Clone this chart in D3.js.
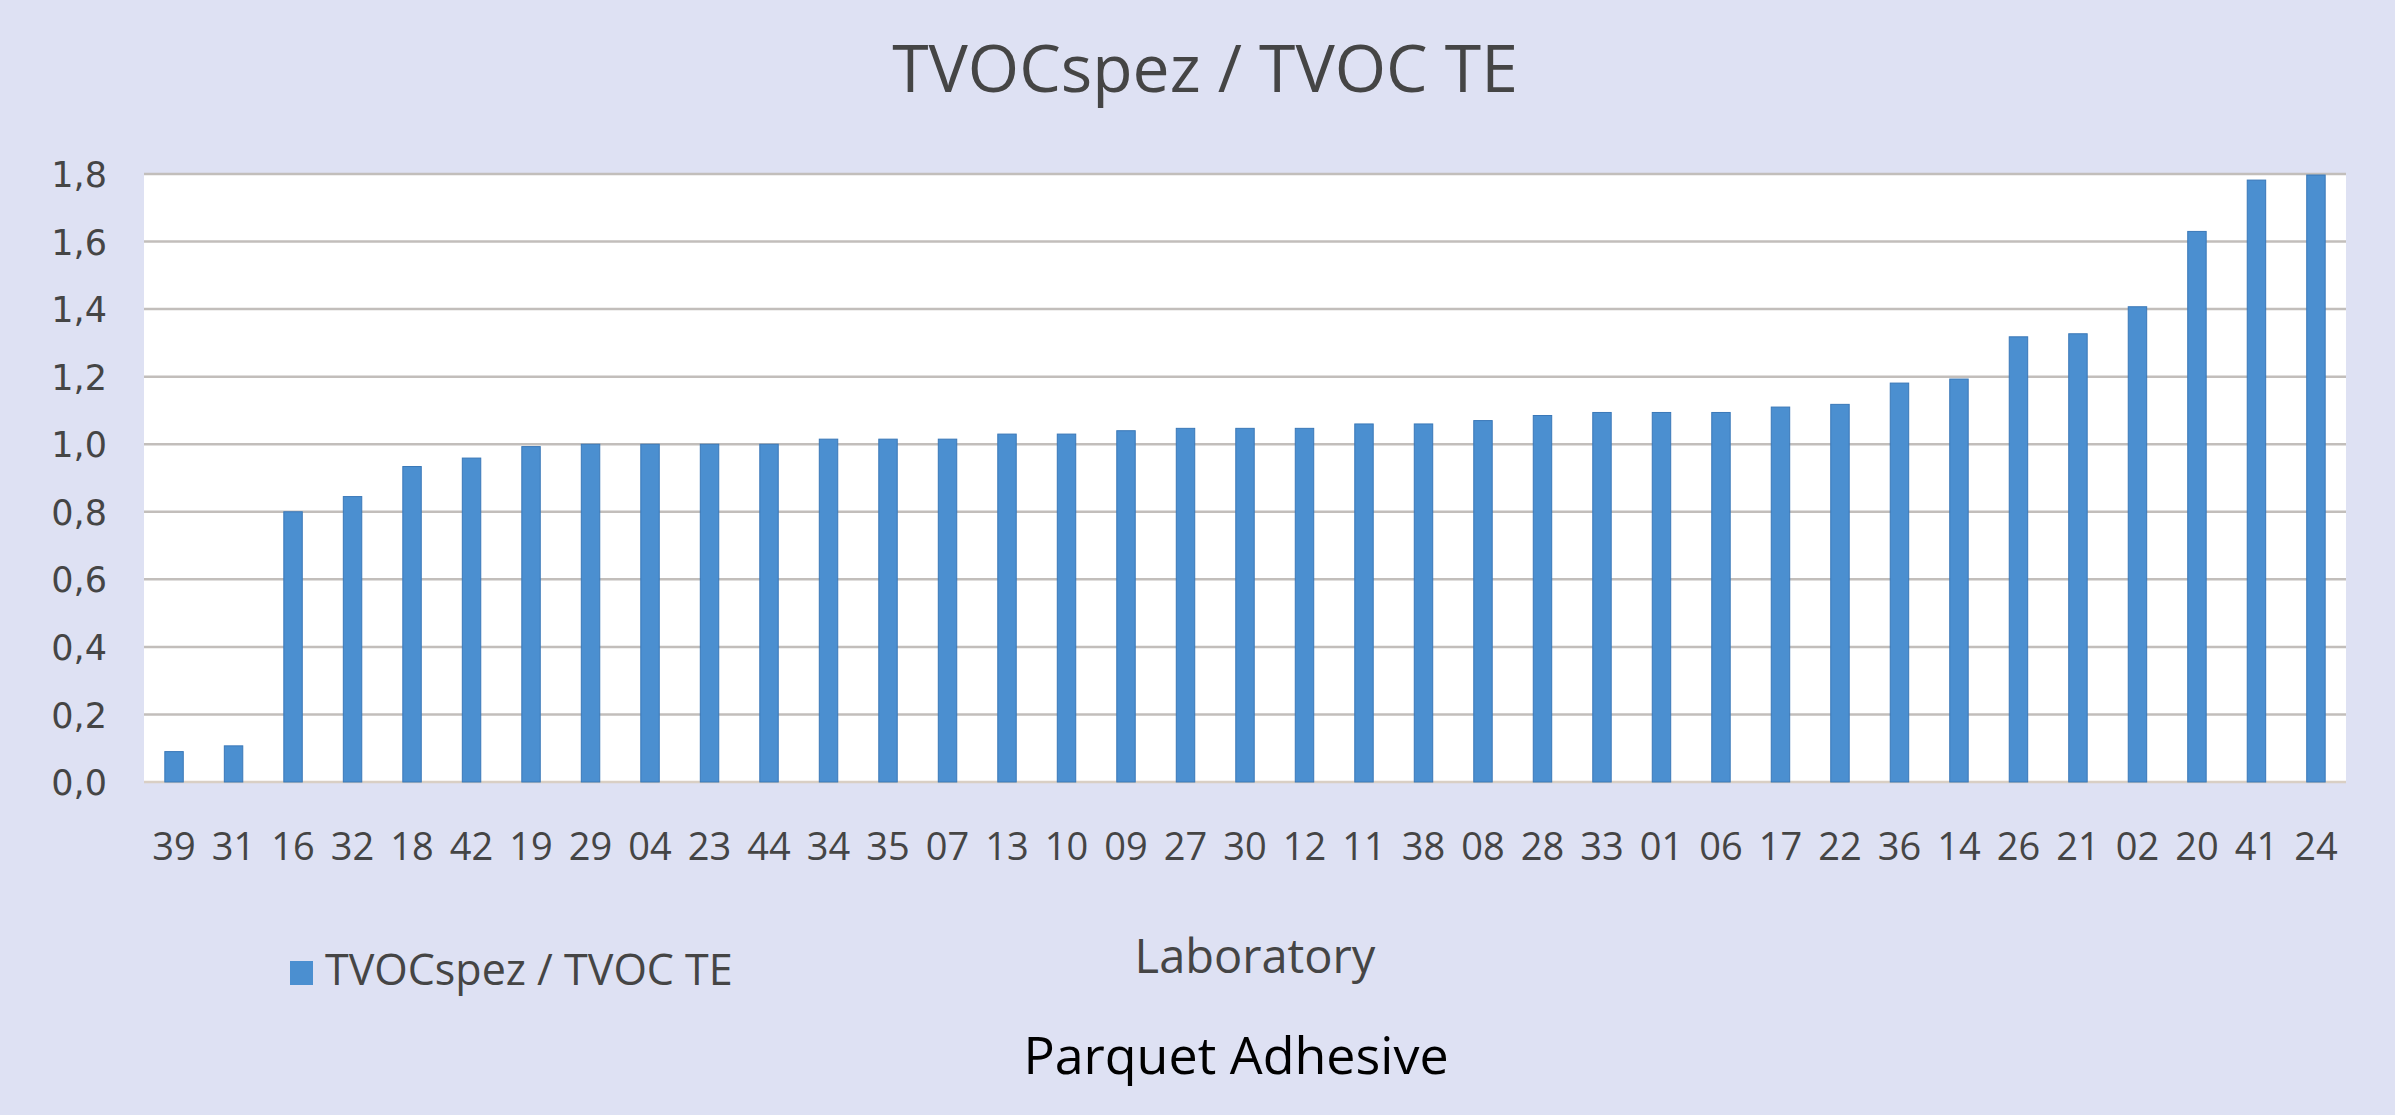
<!DOCTYPE html>
<html>
<head>
<meta charset="utf-8">
<script src="https://cdn.jsdelivr.net/npm/d3@7"></script>
<style>
  html, body { margin: 0; padding: 0; background: #dee1f3; }
  svg { display: block; }
</style>
</head>
<body>
<div id="chart"></div>
<script>
// Laboratories, in the order they appear on the x axis.
const labs = ['39', '31', '16', '32', '18', '42', '19', '29', '04', '23', '44', '34', '35', '07',
    '13', '10', '09', '27', '30', '12', '11', '38', '08', '28', '33', '01', '06', '17', '22',
    '36', '14', '26', '21', '02', '20', '41', '24'];

// TVOCspez / TVOC TE ratio for each laboratory.
const ratios = [0.09, 0.107, 0.80, 0.845, 0.934, 0.959, 0.993, 1.0, 1.0, 1.0, 1.0, 1.015, 1.015,
    1.015, 1.03, 1.03, 1.04, 1.047, 1.047, 1.047, 1.06, 1.06, 1.07, 1.085, 1.094, 1.094, 1.094,
    1.11, 1.118, 1.181, 1.193, 1.318, 1.327, 1.407, 1.63, 1.782, 1.797];

const yTicks = [0, 0.2, 0.4, 0.6, 0.8, 1.0, 1.2, 1.4, 1.6, 1.8];

const seriesName = 'TVOCspez / TVOC TE';
const chartTitle = 'TVOCspez / TVOC TE';
const xTitle = 'Laboratory';
const caption = 'Parquet Adhesive';

const width = 2395;
const height = 1115;
const plot = { left: 144, right: 2346, top: 174, bottom: 782 };

const textFont = '"Open Sans", sans-serif';
const barColor = '#4b8fd0';
const textColor = '#454545';

const data = labs.map((lab, i) => ({ lab, value: ratios[i] }));

const svg = d3.select('#chart').append('svg')
    .attr('width', width)
    .attr('height', height);

svg.append('rect')
    .attr('width', width)
    .attr('height', height)
    .attr('fill', '#dee1f3');

const x = d3.scaleBand()
    .domain(labs)
    .range([plot.left, plot.right])
    .paddingInner(0.69)
    .paddingOuter(0.35);

const y = d3.scaleLinear()
    .domain([0, 1.8])
    .range([plot.bottom, plot.top]);

// White plot area.
svg.append('rect')
    .attr('x', plot.left)
    .attr('y', plot.top)
    .attr('width', plot.right - plot.left)
    .attr('height', plot.bottom - plot.top)
    .attr('fill', '#ffffff');

// Horizontal gridlines.
svg.append('g')
    .selectAll('line')
    .data(yTicks)
    .enter()
    .append('line')
    .attr('x1', plot.left)
    .attr('x2', plot.right)
    .attr('y1', d => y(d))
    .attr('y2', d => y(d))
    .attr('stroke', d => d === 0 ? '#d9cfc4' : '#c2bebb')
    .attr('stroke-width', 2.5);

// Y axis labels, comma as decimal separator.
const yAxis = d3.axisLeft(y)
    .tickValues(yTicks)
    .tickSize(0)
    .tickPadding(0)
    .tickFormat(d => d3.format('.1f')(d).replace('.', ','));

svg.append('g')
    .attr('transform', `translate(${107},0)`)
    .call(yAxis)
    .call(g => g.select('.domain').remove())
    .selectAll('text')
    .attr('font-family', '"DejaVu Sans", sans-serif')
    .attr('font-size', 35)
    .attr('fill', textColor)
    .attr('dy', '0.36em');

// Bars.
svg.append('g')
    .selectAll('rect')
    .data(data)
    .enter()
    .append('rect')
    .attr('x', d => x(d.lab))
    .attr('y', d => y(d.value))
    .attr('width', x.bandwidth())
    .attr('height', d => y(0) - y(d.value))
    .attr('fill', barColor)
    .attr('stroke', '#3a78b8')
    .attr('stroke-width', 1);

// X axis labels.
const xAxis = d3.axisBottom(x)
    .tickSize(0)
    .tickPadding(0);

svg.append('g')
    .attr('transform', `translate(0,${860})`)
    .call(xAxis)
    .call(g => g.select('.domain').remove())
    .selectAll('text')
    .attr('font-family', textFont)
    .attr('font-size', 38)
    .attr('fill', textColor)
    .attr('dy', 0)
    .attr('y', 0);

// Chart title.
svg.append('text')
    .attr('x', 1205)
    .attr('y', 92)
    .attr('text-anchor', 'middle')
    .attr('font-family', textFont)
    .attr('font-size', 66)
    .attr('fill', textColor)
    .text(chartTitle);

// X axis title.
svg.append('text')
    .attr('x', 1255)
    .attr('y', 973)
    .attr('text-anchor', 'middle')
    .attr('font-family', textFont)
    .attr('font-size', 47)
    .attr('fill', textColor)
    .text(xTitle);

// Legend.
const legend = svg.append('g');
legend.append('rect')
    .attr('x', 290)
    .attr('y', 961)
    .attr('width', 23)
    .attr('height', 24)
    .attr('fill', barColor);
legend.append('text')
    .attr('x', 325)
    .attr('y', 985)
    .attr('font-family', textFont)
    .attr('font-size', 43)
    .attr('fill', textColor)
    .text(seriesName);

// Caption below the chart.
svg.append('text')
    .attr('x', 1236)
    .attr('y', 1074)
    .attr('text-anchor', 'middle')
    .attr('font-family', textFont)
    .attr('font-size', 52)
    .attr('fill', '#000000')
    .text(caption);
</script>
</body>
</html>
